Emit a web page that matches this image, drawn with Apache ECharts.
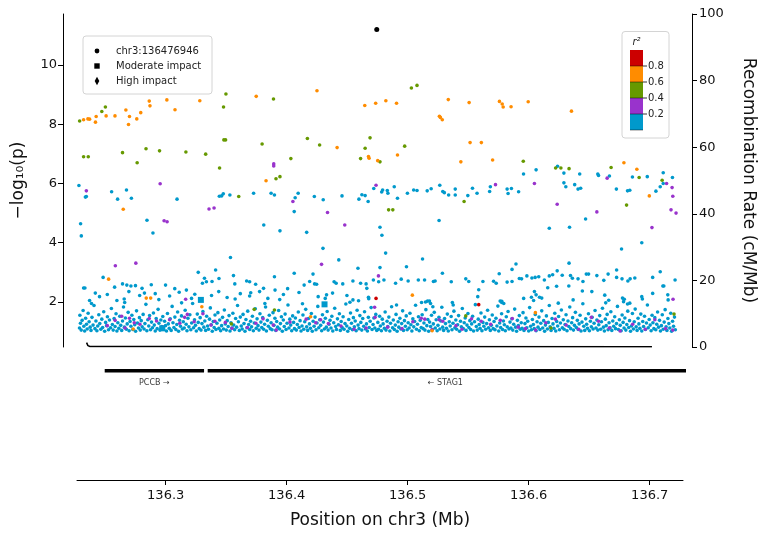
<!DOCTYPE html>
<html><head><meta charset="utf-8">
<script src="https://cdn.jsdelivr.net/npm/echarts@6/dist/echarts.min.js"></script>
<style>html,body{margin:0;padding:0;background:#fff}#c{width:765px;height:535px}</style>
</head><body><div id="c"></div>
<script>
// ---------------- DATA ----------------
const xRange = [136.2267, 136.7275];
const pRange = [0.48, 11.72];
const xTicks = [136.3, 136.4, 136.5, 136.6, 136.7];
const pTicks = [2, 4, 6, 8, 10];
const recTicks = [0, 20, 40, 60, 80, 100];

const leadSnp = [[136.4769, 11.2]];
const redSnps = [[136.4763, 2.12], [136.5620, 1.91]];
const orangeSnps = [
 [136.2322,8.15],[136.2358,8.18],[136.2372,8.17],[136.2421,8.07],[136.2427,8.26],[136.2510,8.28],[136.2584,8.28],[136.2675,8.48],[136.2697,7.99],[136.2705,8.26],[136.2766,8.18],[136.2799,8.39],[136.2870,8.78],[136.2876,8.62],[136.3017,8.82],[136.3085,8.49],[136.3292,8.79],[136.3763,8.94],[136.4270,9.13],[136.4669,8.63],[136.4760,8.71],[136.4845,8.79],[136.4934,8.71],[136.5366,8.83],[136.5540,8.73],[136.5793,8.77],[136.5816,8.68],[136.5824,8.58],[136.5890,8.59],[136.6033,8.76],[136.5292,8.27],[136.5300,8.23],[136.5316,8.15],[136.6394,8.44],
 [136.3845,6.09],[136.4438,7.21],[136.4700,6.91],[136.4705,6.85],[136.4777,6.77],[136.4942,6.96],[136.5471,6.73],[136.5548,7.38],[136.5642,7.38],[136.5736,6.79],[136.6832,6.70],[136.6940,6.48],[136.7044,5.58],[136.2653,5.13],
 [136.2531,2.77],[136.2845,2.13],[136.2882,2.13],[136.3309,1.84],[136.2736,1.09],[136.4217,1.50],[136.5066,2.23],[136.6093,1.64],[136.5231,1.03]
];
const greenSnps = [
 [136.2289,8.11],[136.2474,8.43],[136.2504,8.58],[136.3510,9.02],[136.3490,8.58],[136.3907,8.85],[136.5058,9.22],[136.5105,9.31],
 [136.2322,6.90],[136.2361,6.90],[136.2647,7.04],[136.2843,7.17],[136.2956,7.10],[136.2769,6.70],[136.3176,7.06],[136.3341,6.99],[136.3457,6.52],[136.3493,7.47],[136.3507,7.47],[136.3812,7.33],[136.3928,6.16],[136.3961,6.23],[136.4052,6.84],[136.4190,7.52],[136.4292,7.30],[136.4634,6.84],[136.4672,7.19],[136.4713,7.54],[136.5002,7.26],[136.4796,6.73],[136.5992,6.75],[136.6262,6.52],[136.6306,6.52],[136.6374,6.50],[136.6725,6.54],[136.6959,6.20],[136.7151,6.11],[136.3617,5.56],[136.5498,5.39],[136.6854,5.27],[136.4868,5.11],[136.4903,5.11],
 [136.3746,1.75],[136.3915,1.73],[136.3556,1.26],[136.5512,1.53],[136.7250,1.59],[136.6223,1.12]
];
const purpleSnps = [
 [136.2961,5.99],[136.2345,5.75],[136.3909,6.66],[136.3909,6.59],[136.6692,6.18],[136.6085,6.00],[136.5760,5.96],[136.4763,5.94],[136.7188,6.00],[136.7234,5.86],[136.7240,5.57],[136.2994,4.74],[136.3019,4.71],[136.3369,5.14],[136.3411,5.17],[136.4069,5.39],[136.4358,5.02],[136.4502,4.60],[136.6275,5.30],[136.6606,5.04],[136.7225,5.11],[136.7267,5.00],[136.7066,4.51],[136.4308,3.27],[136.2587,3.22],[136.2758,3.31],[136.4783,2.88],[136.3174,2.09],[136.4751,1.82],[136.7242,2.09],
 [136.2520,1.20],[136.2585,1.38],[136.2640,1.52],[136.2668,1.12],[136.2705,1.45],[136.2745,1.30],[136.2792,1.25],[136.2870,1.44],[136.2931,1.36],[136.2985,1.15],[136.3040,1.40],[136.3125,1.28],[136.3165,1.48],[136.3188,1.58],[136.3245,1.33],[136.3318,1.60],[136.3385,1.22],[136.3418,1.35],[136.3505,1.31],[136.3560,1.11],[136.3690,1.14],[136.3760,1.28],[136.3820,1.43],[136.3905,1.22],[136.3930,1.05],[136.4045,1.32],[136.4180,1.42],[136.4260,1.30],[136.4300,1.40],[136.4365,1.27],[136.4470,1.19],[136.4580,1.08],[136.4680,1.12],[136.4755,1.48],[136.4860,1.15],[136.4980,1.10],[136.5070,1.33],[136.5140,1.45],[136.5170,1.42],[136.5230,1.06],[136.5290,1.40],[136.5320,1.35],[136.5430,1.20],[136.5480,1.08],[136.5560,1.43],[136.5640,1.35],[136.5720,1.25],[136.5800,1.38],[136.5900,1.44],[136.5950,1.15],[136.6010,1.10],[136.6095,1.05],[136.6180,1.30],[136.6260,1.42],[136.6350,1.22],[136.6455,1.08],[136.6560,1.48],[136.6620,1.35],[136.6710,1.12],[136.6800,1.02],[136.6905,1.25],[136.7010,1.08],[136.7090,1.40],[136.7180,1.10],[136.7240,1.05]
];
const blueSnps = [
 [136.2283,5.93],[136.2345,5.56],[136.2337,5.54],[136.2556,5.72],[136.2606,5.47],[136.2680,5.78],[136.2721,5.50],[136.3102,5.47],[136.3455,5.57],[136.3474,5.58],[136.3488,5.65],[136.3543,5.61],[136.3741,5.67],[136.3887,5.67],[136.3915,5.61],[136.4088,5.52],[136.4113,5.67],[136.4248,5.56],[136.4322,5.45],[136.4479,5.58],[136.4620,5.47],[136.4645,5.62],[136.4672,5.59],[136.4744,5.83],
 [136.4857,5.76],[136.4862,5.67],[136.4915,5.89],[136.4942,5.50],[136.5025,5.67],[136.5077,5.78],[136.5105,5.76],[136.5190,5.75],[136.5223,5.82],[136.5295,5.94],[136.5320,5.73],[136.5333,5.69],[136.5369,5.61],[136.5424,5.81],[136.5424,5.61],[136.5568,5.84],[136.5606,5.67],[136.5717,5.89],[136.5711,5.73],[136.5857,5.81],[136.5893,5.83],[136.5865,5.66],[136.5953,5.72],[136.6331,6.02],[136.6347,5.89],[136.6421,5.96],[136.6449,5.81],[136.6471,5.84],[136.6769,5.81],[136.6862,5.75],[136.6881,5.77],[136.7099,5.74],[136.7135,5.89],[136.7160,6.00],
 [136.5994,6.32],[136.6099,6.46],[136.6331,6.35],[136.6463,6.32],[136.6614,6.32],[136.6620,6.27],[136.6711,6.25],[136.6903,6.22],[136.7027,6.23],[136.7160,6.36],[136.7237,6.20],[136.6278,6.58],[136.4818,5.78],[136.4810,5.71],[136.5529,5.59],
 [136.2297,4.64],[136.2303,4.23],[136.2851,4.76],[136.2901,4.33],[136.3826,4.60],[136.3961,4.40],[136.4080,5.05],[136.4184,4.35],[136.4697,5.39],[136.6512,4.80],[136.6981,4.00],[136.6812,3.79],[136.6378,4.52],[136.6209,4.49],[136.5289,4.75],[136.4796,4.52],[136.4812,4.25],[136.4843,3.65],[136.4796,3.16],[136.5151,3.45],[136.5017,3.19],[136.5317,2.97],[136.5931,3.28],[136.5898,3.10],[136.6374,3.31],[136.6771,3.08],[136.7135,3.02],[136.7072,2.83],
 [136.4320,3.81],[136.4452,3.42],[136.3548,3.50],[136.4612,3.14],[136.2485,2.83],
 [136.2322,2.47],[136.2333,2.47],[136.2581,2.50],[136.2647,2.61],[136.2683,2.57],[136.2717,2.54],[136.2755,2.55],[136.2810,2.46],[136.2887,2.58],[136.3006,2.57],[136.3083,2.45],[136.3279,3.00],[136.3424,3.08],[136.3452,2.79],[136.3331,2.80],[136.3347,2.68],[136.3314,2.63],[136.3394,2.69],[136.3573,2.89],[136.3584,2.61],[136.3683,2.71],[136.3708,2.68],[136.3758,2.60],[136.3708,2.20],[136.3717,2.31],[136.3791,2.35],[136.3824,2.46],[136.3915,2.85],[136.3920,2.40],[136.4025,2.45],[136.4080,2.97],[136.4163,2.57],[136.4209,2.69],[136.4250,2.61],[136.4267,2.60],[136.4237,2.94],[136.4350,2.24],[136.4413,2.68],[136.4430,2.63],[136.4485,2.61],[136.4570,2.71],[136.4634,2.63],[136.4680,2.61],[136.4686,2.46],[136.4741,2.74],[136.4700,2.16],[136.4570,2.07],[136.4617,2.04],
 [136.4785,2.68],[136.4829,2.74],[136.4926,2.63],[136.4973,2.77],[136.5031,2.71],[136.5116,2.74],[136.5168,2.74],[136.5242,2.69],[136.5256,2.71],[136.5391,2.68],[136.5512,2.78],[136.5537,2.69],[136.5655,2.69],[136.5744,2.70],[136.5766,2.63],[136.5791,2.95],[136.5857,2.67],[136.5898,2.69],[136.5959,2.79],[136.5978,2.78],[136.6022,2.88],[136.6064,2.81],[136.6091,2.83],[136.6121,2.85],[136.6168,2.74],[136.6209,2.88],[136.6237,2.92],[136.6275,3.05],[136.6317,2.90],[136.6386,2.89],[136.6402,2.80],[136.6449,2.78],[136.6490,2.69],[136.6518,2.94],[136.6537,2.94],[136.6606,2.89],[136.6664,2.73],[136.6700,2.94],[136.6771,2.83],[136.6816,2.78],[136.6865,2.71],[136.6884,2.78],[136.6923,2.81],[136.7259,2.74],[136.7157,2.54],[136.7165,2.54],[136.6372,2.54],[136.6485,2.37],[136.6564,2.35],[136.6672,2.23],[136.6820,2.13],[136.6835,2.09],[136.6881,1.96],[136.6981,2.18],[136.7072,2.29],[136.7198,2.24],[136.6085,2.35],[136.6099,2.24],[136.6146,2.13],[136.6060,2.16],[136.6270,2.53],[136.6196,2.48],[136.5620,2.41],[136.5612,2.18],[136.5799,2.03],[136.5812,1.98],[136.5143,1.98],[136.5176,2.00],[136.5209,2.03],[136.5237,1.84],[136.4934,1.90],[136.5407,1.90],
 [136.2372,2.05],[136.2388,1.95],[136.2661,2.10],[136.2665,1.98],[136.2950,2.08],[136.3140,1.97],[136.3223,2.12],[136.3587,2.10],[136.3835,1.95],[136.3959,2.08],[136.4149,1.94],[136.4339,2.12],[136.4545,1.99],[136.4702,2.11],
 [136.5193,2.03],[136.5218,1.95],[136.5400,1.98],[136.5813,2.02],[136.5829,1.95],[136.5995,2.12],[136.6078,2.05],[136.6127,2.16],[136.6284,1.96],[136.6408,2.07],[136.6680,1.97],[136.6705,2.06],[136.6829,2.01],[136.6862,1.93],[136.6986,2.10],[136.7201,2.07],
 [136.2420,2.30],[136.2455,2.18],[136.2520,2.25],[136.2600,2.05],[136.2700,2.35],[136.2790,2.22],[136.2830,2.30],[136.2920,2.28],[136.3040,2.20],[136.3120,2.33],[136.3180,2.40],[136.3250,2.26],[136.3390,2.22],[136.3450,2.35],[136.3520,2.15],[136.3630,2.28],[136.3860,2.12],[136.3990,2.25],[136.4120,2.32],[136.4280,2.18],[136.4400,2.30],[136.4520,2.22]
];
const blueBandLeft = [
 [136.2288,1.12],[136.2291,1.55],[136.2296,1.28],[136.2302,1.05],[136.2310,1.38],[136.2318,1.71],[136.2324,1.18],[136.2331,1.02],[136.2339,1.45],[136.2346,1.25],[136.2352,1.09],[136.2360,1.62],[136.2368,1.33],[136.2377,1.15],[136.2384,1.04],[136.2392,1.48],[136.2401,1.22],[136.2409,1.88],[136.2417,1.10],[136.2425,1.36],[136.2433,1.03],[136.2440,1.19],[136.2449,1.57],[136.2457,1.27],[136.2466,1.08],[136.2474,1.42],[136.2481,1.14],[136.2490,1.67],[136.2498,1.01],[136.2506,1.31],[136.2514,1.20],[136.2521,1.50],[136.2530,1.06],[136.2538,1.39],[136.2547,1.13],[136.2554,1.78],[136.2562,1.24],[136.2569,1.05],[136.2577,1.44],[136.2585,1.17],[136.2593,1.60],[136.2600,1.02],[136.2608,1.30],[136.2616,1.11],[136.2624,1.52],[136.2632,1.21],[136.2640,1.04],[136.2647,1.36],[136.2655,1.83],[136.2663,1.15],[136.2671,1.46],[136.2679,1.08],[136.2686,1.26],[136.2694,1.65],[136.2702,1.03],[136.2710,1.34],[136.2717,1.18],[136.2725,1.55],[136.2733,1.07],[136.2741,1.41],[136.2749,1.23],[136.2756,1.01],[136.2764,1.70],[136.2772,1.29],[136.2780,1.12],[136.2788,1.47],[136.2795,1.05],[136.2803,1.37],[136.2811,1.16],[136.2819,1.58],[136.2827,1.09],[136.2834,1.27],[136.2842,1.92],[136.2850,1.03],[136.2858,1.40],[136.2866,1.19],[136.2873,1.54],[136.2881,1.06],[136.2889,1.32],[136.2897,1.13],[136.2905,1.63],[136.2912,1.22],[136.2920,1.02],[136.2928,1.44],[136.2936,1.10],[136.2944,1.75],[136.2951,1.28],[136.2959,1.05],[136.2967,1.39],[136.2975,1.17],[136.2983,1.51],[136.2990,1.08],[136.2998,1.35],[136.3006,1.20],[136.3014,1.02],[136.3022,1.61],[136.3029,1.26],[136.3037,1.11],[136.3045,1.43],[136.3053,1.04],[136.3061,1.85],[136.3068,1.30],[136.3076,1.14],[136.3084,1.49],[136.3092,1.07],[136.3100,1.24],[136.3107,1.66],[136.3115,1.01],[136.3123,1.38],[136.3131,1.18],[136.3139,1.53],[136.3146,1.09],[136.3154,1.33],[136.3162,1.12],[136.3170,1.72],[136.3178,1.25],[136.3185,1.03],[136.3193,1.45],[136.3201,1.16],[136.3209,1.57],[136.3217,1.06],[136.3224,1.29],[136.3232,1.95],[136.3240,1.13],[136.3248,1.40],[136.3256,1.21],[136.3263,1.02],[136.3271,1.59],[136.3279,1.31],[136.3287,1.10],[136.3295,1.47],[136.3302,1.05],[136.3310,1.27],[136.3318,1.68],[136.3326,1.15],[136.3334,1.36],[136.3341,1.04],[136.3349,1.52],[136.3357,1.19],[136.3365,1.08],[136.3373,1.42],[136.3380,1.80],[136.3388,1.23],[136.3396,1.01],[136.3404,1.34],[136.3412,1.14],[136.3419,1.56],[136.3427,1.07],[136.3435,1.28],[136.3443,1.64],[136.3451,1.11],[136.3458,1.39],[136.3466,1.03],[136.3474,1.20],[136.3482,1.48],[136.3490,1.09],[136.3497,1.73],[136.3505,1.26],[136.3513,1.05],[136.3521,1.37],[136.3529,1.17],[136.3536,1.54],[136.3544,1.02],[136.3552,1.30],[136.3560,1.12],[136.3568,1.62],[136.3575,1.22],[136.3583,1.06],[136.3591,1.44],[136.3599,1.15],[136.3607,1.88],[136.3614,1.33],[136.3622,1.04],[136.3630,1.49],[136.3638,1.19],[136.3646,1.09],[136.3653,1.58],[136.3661,1.27],[136.3669,1.01],[136.3677,1.41],[136.3685,1.13],[136.3692,1.69],[136.3700,1.24],[136.3708,1.07],[136.3716,1.35],[136.3724,1.16],[136.3731,1.52],[136.3739,1.03],[136.3747,1.29],[136.3755,1.77],[136.3763,1.11],[136.3770,1.43],[136.3778,1.20],[136.3786,1.05],[136.3794,1.60],[136.3802,1.32],[136.3809,1.14],[136.3817,1.47],[136.3825,1.08],[136.3833,1.25],[136.3841,1.83],[136.3848,1.02],[136.3856,1.38],[136.3864,1.18],[136.3872,1.55],[136.3880,1.10],[136.3887,1.30],[136.3895,1.06],[136.3903,1.64],[136.3911,1.21],[136.3919,1.45],[136.3926,1.04],[136.3934,1.34],[136.3942,1.15],[136.3950,1.71],[136.3958,1.09],[136.3965,1.27],[136.3973,1.50],[136.3981,1.01],[136.3989,1.39],[136.3997,1.17],[136.4004,1.59],[136.4012,1.07],[136.4020,1.28],[136.4028,1.90],[136.4036,1.12],[136.4043,1.42],[136.4051,1.22],[136.4059,1.03],[136.4067,1.53],[136.4075,1.31],[136.4082,1.10],[136.4090,1.46],[136.4098,1.05],[136.4106,1.24],[136.4114,1.66],[136.4121,1.14],[136.4129,1.37],[136.4137,1.02],[136.4145,1.19],[136.4153,1.56],[136.4160,1.08],[136.4168,1.33],[136.4176,1.75],[136.4184,1.16],[136.4192,1.04],[136.4199,1.44],[136.4207,1.26],[136.4215,1.11],[136.4223,1.61],[136.4231,1.01],[136.4238,1.35],[136.4246,1.18],[136.4254,1.49],[136.4262,1.06],[136.4270,1.29],[136.4277,1.85],[136.4285,1.13],[136.4293,1.40],[136.4301,1.21],[136.4309,1.03],[136.4316,1.57],[136.4324,1.32],[136.4332,1.09],[136.4340,1.45],[136.4348,1.15],[136.4355,1.68],[136.4363,1.05],[136.4371,1.25],[136.4379,1.38],[136.4387,1.12],[136.4394,1.52],[136.4402,1.02],[136.4410,1.30],[136.4418,1.79],[136.4426,1.17],[136.4433,1.07],[136.4441,1.43],[136.4449,1.23],[136.4457,1.60],[136.4465,1.04],[136.4472,1.34],[136.4480,1.14],[136.4488,1.50],[136.4496,1.08],[136.4504,1.27],[136.4511,1.93],[136.4519,1.19],[136.4527,1.01],[136.4535,1.41],[136.4543,1.11],[136.4550,1.63],[136.4558,1.28],[136.4566,1.06],[136.4574,1.47],[136.4582,1.16],[136.4589,1.36],[136.4597,1.03],[136.4605,1.72],[136.4613,1.22],[136.4621,1.10],[136.4628,1.54],[136.4636,1.31],[136.4644,1.05],[136.4652,1.44],[136.4660,1.18],[136.4667,1.67],[136.4675,1.09],[136.4683,1.26],[136.4691,1.02],[136.4699,1.48],[136.4706,1.14],[136.4714,1.35],[136.4722,1.81],[136.4730,1.07],[136.4738,1.24],[136.4745,1.46],[136.4753,1.12],[136.4761,1.58],[136.4769,1.04]
];
const blueBandRight = [
 [136.4778,1.31],[136.4784,1.08],[136.4793,1.52],[136.4799,1.19],[136.4808,1.03],[136.4815,1.42],[136.4822,1.26],[136.4833,1.11],[136.4839,1.66],[136.4846,1.05],[136.4855,1.35],[136.4861,1.17],[136.4870,1.49],[136.4878,1.02],[136.4884,1.28],[136.4893,1.84],[136.4901,1.13],[136.4907,1.39],[136.4916,1.07],[136.4924,1.22],[136.4930,1.58],[136.4939,1.01],[136.4947,1.33],[136.4953,1.15],[136.4962,1.45],[136.4970,1.09],[136.4977,1.27],[136.4985,1.70],[136.4992,1.04],[136.5000,1.37],[136.5008,1.18],[136.5015,1.53],[136.5023,1.06],[136.5031,1.30],[136.5039,1.12],[136.5046,1.62],[136.5054,1.23],[136.5062,1.02],[136.5070,1.43],[136.5078,1.16],[136.5085,1.34],[136.5093,1.89],[136.5101,1.08],[136.5109,1.25],[136.5117,1.50],[136.5124,1.03],[136.5132,1.38],[136.5140,1.14],[136.5148,1.57],[136.5156,1.10],[136.5163,1.29],[136.5171,1.05],[136.5179,1.74],[136.5187,1.20],[136.5195,1.41],[136.5202,1.01],[136.5210,1.32],[136.5218,1.17],[136.5226,1.55],[136.5234,1.07],[136.5241,1.26],[136.5249,1.65],[136.5257,1.12],[136.5265,1.40],[136.5273,1.03],[136.5280,1.21],[136.5288,1.48],[136.5296,1.09],[136.5304,1.36],[136.5312,1.82],[136.5319,1.15],[136.5327,1.04],[136.5335,1.44],[136.5343,1.27],[136.5351,1.11],[136.5358,1.59],[136.5366,1.02],[136.5374,1.33],[136.5382,1.19],[136.5390,1.51],[136.5397,1.06],[136.5405,1.28],[136.5413,1.69],[136.5421,1.13],[136.5429,1.39],[136.5436,1.08],[136.5444,1.23],[136.5452,1.54],[136.5460,1.01],[136.5468,1.35],[136.5475,1.16],[136.5483,1.78],[136.5491,1.10],[136.5499,1.30],[136.5507,1.46],[136.5514,1.04],[136.5522,1.22],[136.5530,1.61],[136.5538,1.14],[136.5546,1.37],[136.5553,1.07],[136.5561,1.26],[136.5569,1.52],[136.5577,1.02],[136.5585,1.33],[136.5592,1.91],[136.5600,1.17],[136.5608,1.05],[136.5616,1.42],[136.5624,1.24],[136.5631,1.11],[136.5639,1.63],[136.5647,1.03],[136.5655,1.31],[136.5663,1.18],[136.5670,1.49],[136.5678,1.08],[136.5686,1.27],[136.5694,1.72],[136.5702,1.13],[136.5709,1.40],[136.5717,1.04],[136.5725,1.21],[136.5733,1.56],[136.5741,1.10],[136.5748,1.34],[136.5756,1.06],[136.5764,1.45],[136.5772,1.19],[136.5780,1.86],[136.5787,1.02],[136.5795,1.29],[136.5803,1.14],[136.5811,1.60],[136.5819,1.07],[136.5826,1.36],[136.5834,1.23],[136.5842,1.03],[136.5850,1.50],[136.5858,1.16],[136.5865,1.68],[136.5873,1.09],[136.5881,1.32],[136.5889,1.12],[136.5897,1.43],[136.5904,1.05],[136.5912,1.25],[136.5920,1.76],[136.5928,1.15],[136.5936,1.01],[136.5943,1.38],[136.5951,1.20],[136.5959,1.54],[136.5967,1.08],[136.5975,1.30],[136.5982,1.11],[136.5990,1.64],[136.5998,1.04],[136.6006,1.27],[136.6014,1.46],[136.6021,1.13],[136.6029,1.35],[136.6037,1.02],[136.6045,1.81],[136.6053,1.18],[136.6060,1.06],[136.6068,1.41],[136.6076,1.24],[136.6084,1.10],[136.6092,1.58],[136.6099,1.03],[136.6107,1.33],[136.6115,1.15],[136.6123,1.49],[136.6131,1.07],[136.6138,1.28],[136.6146,1.70],[136.6154,1.12],[136.6162,1.37],[136.6170,1.01],[136.6177,1.22],[136.6185,1.53],[136.6193,1.09],[136.6201,1.31],[136.6209,1.88],[136.6216,1.16],[136.6224,1.04],[136.6232,1.44],[136.6240,1.26],[136.6248,1.11],[136.6255,1.62],[136.6263,1.02],[136.6271,1.34],[136.6279,1.19],[136.6287,1.51],[136.6294,1.06],[136.6302,1.29],[136.6310,1.73],[136.6318,1.13],[136.6326,1.40],[136.6333,1.08],[136.6341,1.24],[136.6349,1.57],[136.6357,1.03],[136.6365,1.36],[136.6372,1.17],[136.6380,1.83],[136.6388,1.10],[136.6396,1.30],[136.6404,1.47],[136.6411,1.05],[136.6419,1.21],[136.6427,1.65],[136.6435,1.14],[136.6443,1.38],[136.6450,1.07],[136.6458,1.26],[136.6466,1.55],[136.6474,1.02],[136.6482,1.32],[136.6489,1.94],[136.6497,1.18],[136.6505,1.04],[136.6513,1.43],[136.6521,1.25],[136.6528,1.11],[136.6536,1.60],[136.6544,1.03],[136.6552,1.35],[136.6560,1.16],[136.6567,1.48],[136.6575,1.09],[136.6583,1.28],[136.6591,1.71],[136.6599,1.12],[136.6606,1.39],[136.6614,1.05],[136.6622,1.23],[136.6630,1.54],[136.6638,1.08],[136.6645,1.33],[136.6653,1.79],[136.6661,1.15],[136.6669,1.02],[136.6677,1.42],[136.6684,1.20],[136.6692,1.58],[136.6700,1.06],[136.6708,1.30],[136.6716,1.13],[136.6723,1.67],[136.6731,1.04],[136.6739,1.36],[136.6747,1.18],[136.6755,1.50],[136.6762,1.10],[136.6770,1.27],[136.6778,1.85],[136.6786,1.07],[136.6794,1.40],[136.6801,1.21],[136.6809,1.03],[136.6817,1.56],[136.6825,1.31],[136.6833,1.12],[136.6840,1.46],[136.6848,1.05],[136.6856,1.24],[136.6864,1.69],[136.6872,1.14],[136.6879,1.37],[136.6887,1.01],[136.6895,1.19],[136.6903,1.61],[136.6911,1.09],[136.6918,1.33],[136.6926,1.76],[136.6934,1.16],[136.6942,1.04],[136.6950,1.45],[136.6957,1.26],[136.6965,1.11],[136.6973,1.59],[136.6981,1.02],[136.6989,1.34],[136.6996,1.17],[136.7004,1.52],[136.7012,1.07],[136.7020,1.29],[136.7028,1.90],[136.7035,1.13],[136.7043,1.41],[136.7051,1.22],[136.7059,1.03],[136.7067,1.55],[136.7074,1.30],[136.7082,1.10],[136.7090,1.47],[136.7098,1.06],[136.7106,1.25],[136.7113,1.66],[136.7121,1.15],[136.7129,1.38],[136.7137,1.02],[136.7145,1.20],[136.7152,1.57],[136.7160,1.08],[136.7168,1.32],[136.7176,1.74],[136.7184,1.16],[136.7191,1.04],[136.7199,1.44],[136.7207,1.27],[136.7215,1.12],[136.7223,1.62],[136.7230,1.01],[136.7238,1.35],[136.7246,1.18],[136.7254,1.49],[136.7261,1.06]
];
const moderateSnps = [[136.3301, 2.07], [136.2978, 1.11], [136.4333, 1.92]];
const highSnps = [];

const recombPos  = [136.2347, 136.2358, 136.2375, 136.3350, 136.3362, 136.3375, 136.7066];
const recombRate = [1.3, 0.4, 0.15, 0.15, 0.45, 0.15, 0.1];

const geneNames   = ['PCCB', 'STAG1'];
const geneStarts  = [136.2496, 136.3347];
const geneEnds    = [136.3317, 136.7524];
const geneStrands = ['+', '-'];

const ldLabels = ['0.8', '0.6', '0.4', '0.2'];
const ldColors = ['#cc0000', '#ff8c00', '#669900', '#9933cc', '#0099cc'];
const legendNames = ['chr3:136476946', 'Moderate impact', 'High impact'];

// ---------------- CHART ----------------
const FONT = 'DejaVu Sans';
const chart = echarts.init(document.getElementById('c'), null, {renderer: 'canvas', width: 765, height: 535});
const GL = 77, GR = 82;
const geneY = 0.874, labelY = 0.776;
const DOT = 3.6;

function dots(name, data, color, size, symbol, z) {
  return {type: 'scatter', name, xAxisIndex: 0, yAxisIndex: 0, data, symbol: symbol || 'circle',
    symbolSize: size, itemStyle: {color, opacity: 1}, z: z, silent: true, animation: false};
}

const series = [
  {type: 'line', name: 'recomb', xAxisIndex: 0, yAxisIndex: 1,
   data: recombPos.map((p, i) => [p, recombRate[i]]), symbol: 'none', showSymbol: false,
   lineStyle: {color: '#000', width: 1.5}, z: 1, silent: true},
  dots('r2 0-0.2', blueSnps.concat(blueBandLeft, blueBandRight), ldColors[4], DOT, 'circle', 2),
  dots('r2 0.2-0.4', purpleSnps, ldColors[3], DOT, 'circle', 3),
  dots('r2 0.4-0.6', greenSnps, ldColors[2], DOT, 'circle', 4),
  dots('r2 0.6-0.8', orangeSnps, ldColors[1], DOT, 'circle', 5),
  dots('r2 0.8-1', redSnps, ldColors[0], DOT, 'circle', 6),
  dots(legendNames[0], leadSnp, '#000', 5, 'circle', 7),
  dots(legendNames[1], moderateSnps, ldColors[4], 6, 'rect', 6),
  dots(legendNames[2], highSnps, ldColors[4], 6, 'diamond', 6)
];
geneNames.forEach((g, i) => {
  series.push({type: 'line', name: g, xAxisIndex: 1, yAxisIndex: 2,
    data: [[geneStarts[i], geneY], [geneEnds[i], geneY]], symbol: 'none',
    lineStyle: {color: '#000', width: 3.6, cap: 'butt'}, silent: true});
});
series.push({type: 'scatter', name: 'geneLabels', xAxisIndex: 1, yAxisIndex: 2, symbolSize: 0, silent: true,
  data: geneNames.map((g, i) => ({name: geneStrands[i] === '+' ? g + ' \u2192' : '\u2190 ' + g,
     value: [(Math.max(geneStarts[i], xRange[0]) + Math.min(geneEnds[i], xRange[1])) / 2, labelY]})),
  label: {show: true, position: 'inside', formatter: p => p.name, fontFamily: FONT, fontSize: 8, color: '#000'}});

// legend + colorbar graphics
const graphics = [];
graphics.push({type: 'rect', shape: {x: 83, y: 36, width: 129, height: 58, r: 3},
  style: {fill: 'rgba(255,255,255,0.85)', stroke: '#d4d4d4', lineWidth: 1}, z: 100});
const lgY = [51, 66, 81];
graphics.push({type: 'circle', shape: {cx: 97, cy: lgY[0], r: 2.4}, style: {fill: '#000'}, z: 101});
graphics.push({type: 'rect', shape: {x: 94.3, y: lgY[1] - 2.7, width: 5.4, height: 5.4}, style: {fill: '#000'}, z: 101});
graphics.push({type: 'polygon', shape: {points: [[97, lgY[2] - 4.3], [99.3, lgY[2]], [97, lgY[2] + 4.3], [94.7, lgY[2]]]}, style: {fill: '#000'}, z: 101});
legendNames.forEach((t, i) => graphics.push({type: 'text', x: 116, y: lgY[i],
  style: {text: t, font: '10px "DejaVu Sans"', fill: '#222', verticalAlign: 'middle', align: 'left'}, z: 101}));

graphics.push({type: 'rect', shape: {x: 622, y: 31.5, width: 47, height: 106.5, r: 3},
  style: {fill: 'rgba(255,255,255,0.85)', stroke: '#d4d4d4', lineWidth: 1}, z: 100});
graphics.push({type: 'text', x: 636.5, y: 42.5,
  style: {text: 'r\u00b2', font: 'italic 10px "DejaVu Sans"', fill: '#222', align: 'center', verticalAlign: 'middle'}, z: 101});
const cbX = 630, cbY = 50, cbW = 13, cbH = 16;
ldColors.forEach((c, i) => graphics.push({type: 'rect', shape: {x: cbX, y: cbY + i * cbH, width: cbW, height: cbH},
  style: {fill: c}, z: 101}));
for (let i = 1; i <= ldColors.length; i++) {
  graphics.push({type: 'line', shape: {x1: cbX, y1: cbY + i * cbH, x2: cbX + cbW, y2: cbY + i * cbH},
    style: {stroke: 'rgba(0,0,0,0.45)', lineWidth: 1}, z: 102});
}
ldLabels.forEach((t, i) => {
  const yy = cbY + (i + 1) * cbH;
  graphics.push({type: 'line', shape: {x1: cbX + cbW, y1: yy, x2: cbX + cbW + 4, y2: yy}, style: {stroke: '#333', lineWidth: 1}, z: 102});
  graphics.push({type: 'text', x: cbX + cbW + 5, y: yy, style: {text: t, font: '10px "DejaVu Sans"', fill: '#222', verticalAlign: 'middle', align: 'left'}, z: 102});
});

const axisText = {fontFamily: FONT, fontSize: 13, color: '#111'};
const option = {
  animation: false,
  backgroundColor: '#fff',
  grid: [{left: GL, right: GR, top: 14, height: 333}, {left: GL, right: GR, top: 355, height: 125}],
  xAxis: [
    {gridIndex: 0, type: 'value', min: xRange[0], max: xRange[1], show: false},
    {gridIndex: 1, type: 'value', min: xRange[0], max: xRange[1],
     axisLine: {show: true, onZero: false, lineStyle: {color: '#000', width: 1}},
     axisTick: {show: true, length: 5, customValues: xTicks, lineStyle: {color: '#000', width: 1}},
     axisLabel: Object.assign({customValues: xTicks, formatter: v => Number(v).toFixed(1), margin: 9}, axisText),
     splitLine: {show: false},
     name: 'Position on chr3 (Mb)', nameLocation: 'middle', nameGap: 32,
     nameTextStyle: {fontFamily: FONT, fontSize: 17, color: '#111'}}
  ],
  yAxis: [
    {gridIndex: 0, type: 'value', min: pRange[0], max: pRange[1], position: 'left', offset: 14,
     axisLine: {show: true, onZero: false, lineStyle: {color: '#000', width: 1}},
     axisTick: {show: true, length: 5, customValues: pTicks, lineStyle: {color: '#000'}},
     axisLabel: Object.assign({customValues: pTicks, margin: 6}, axisText),
     splitLine: {show: false},
     name: '\u2212log\u2081\u2080(p)', nameLocation: 'middle', nameGap: 36,
     nameTextStyle: {fontFamily: FONT, fontSize: 17, color: '#111'}},
    {gridIndex: 0, type: 'value', min: 0, max: 100, interval: 20, position: 'right', offset: 15,
     axisLine: {show: true, onZero: false, lineStyle: {color: '#000', width: 1}},
     axisTick: {show: true, length: 5, lineStyle: {color: '#000'}},
     axisLabel: Object.assign({margin: 7}, axisText),
     splitLine: {show: false},
     name: 'Recombination Rate (cM/Mb)', nameLocation: 'middle', nameGap: 48, nameRotate: -90,
     nameTextStyle: {fontFamily: FONT, fontSize: 17, color: '#111'}},
    {gridIndex: 1, type: 'value', min: 0, max: 1, show: false}
  ],
  series,
  graphic: graphics
};
chart.setOption(option);
</script></body></html>
